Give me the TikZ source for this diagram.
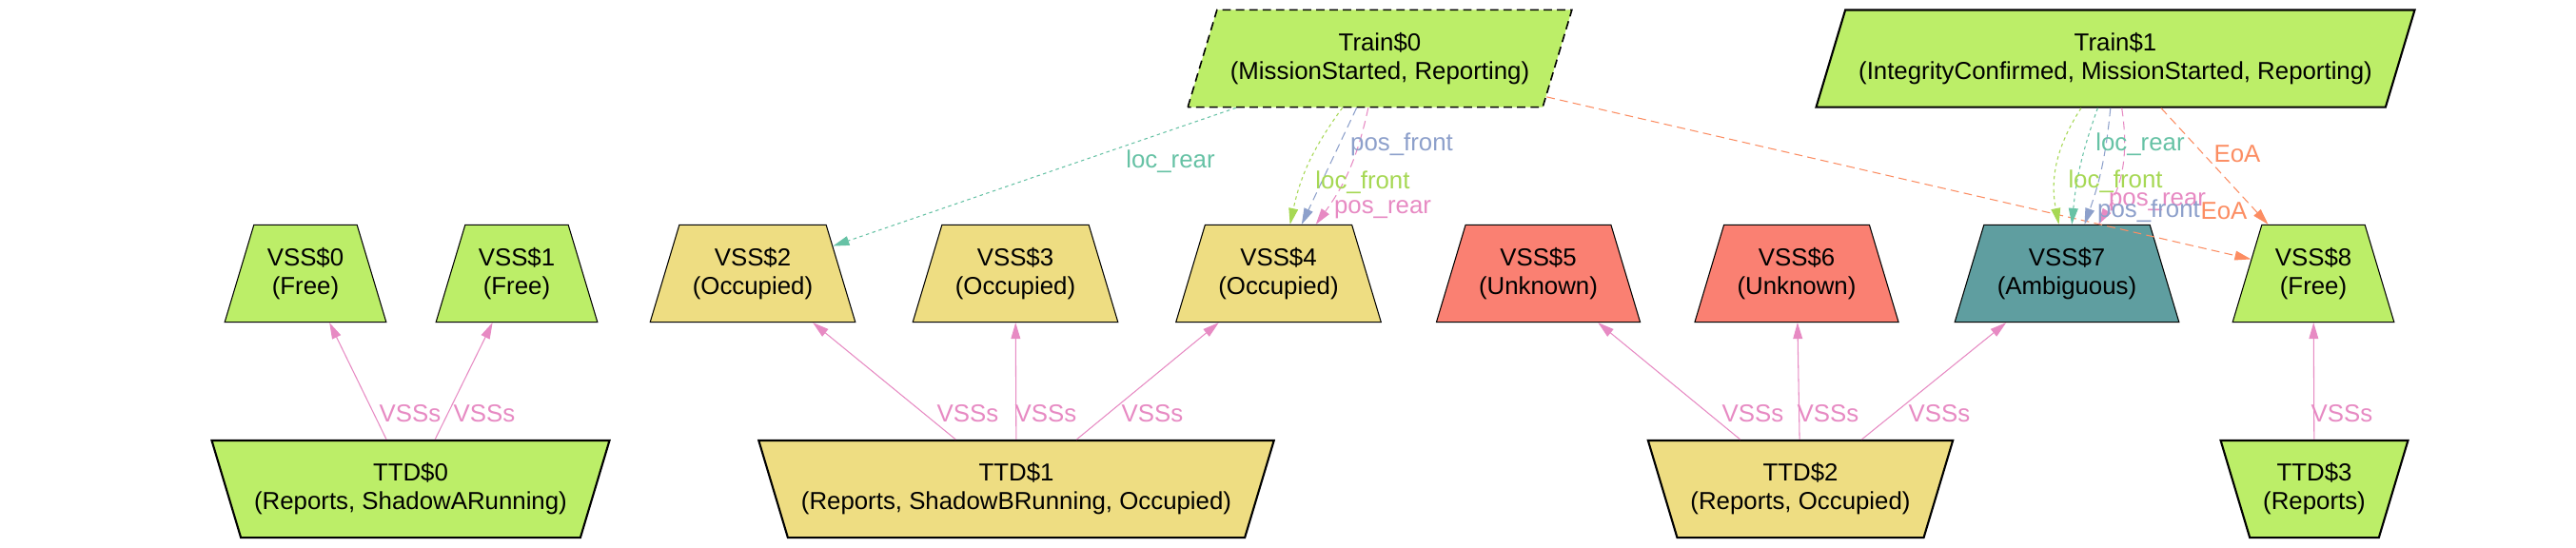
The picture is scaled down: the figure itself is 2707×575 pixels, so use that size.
\documentclass[tikz,border=0pt]{standalone}
\usepackage{fontspec}
\setmainfont{Liberation Sans}
\usetikzlibrary{shapes.geometric}
\usetikzlibrary{arrows.meta}
\definecolor{greenfill}{HTML}{BCEE68}
\definecolor{goldfill}{HTML}{EEDD82}
\definecolor{salmonfill}{HTML}{FA8072}
\definecolor{tealfill}{HTML}{5F9EA0}
\definecolor{setteal}{HTML}{66C2A5}
\definecolor{setorange}{HTML}{FC8D62}
\definecolor{setblue}{HTML}{8DA0CB}
\definecolor{setpink}{HTML}{E78AC3}
\definecolor{setgreen}{HTML}{A6D854}
\tikzset{vss/.style = {trapezium, trapezium left angle=73.3, trapezium right angle=73.3, draw, line width=0.6pt, align=center, inner xsep=0.28cm, inner ysep=0.476cm}}
\tikzset{ttd/.style = {vss, shape border rotate=180, line width=1.2pt}}
\tikzset{train/.style = {vss, trapezium right angle=106.7, line width=1.2pt}}
\tikzset{lbl/.style = {inner sep=0}}
\tikzset{link/.style = {line width=0.6pt, -{Triangle[length=9.7pt,width=5.6pt]}}}
\tikzset{dots/.style = {link, dash pattern=on 2pt off 2pt}}
\tikzset{dashes/.style = {link, dash pattern=on 5pt off 3pt}}

\begin{document}
\begin{tikzpicture}[x=0.02cm, y=-0.02cm, font=\fontsize{14.7}{17.1}\selectfont]
      \path[use as bounding box, fill=white] (0,0) rectangle (2707,575);

      \node[train, fill=greenfill, line width=0.9pt, dash pattern=on 5pt off 3pt] (train0) at (1450,61.5) {Train\$0\\(MissionStarted, Reporting)};
      \node[train, fill=greenfill] (train1) at (2223,61.5) {Train\$1\\(IntegrityConfirmed, MissionStarted, Reporting)};

      \node[vss, fill=greenfill] (vss0) at (321,287.5) {VSS\$0\\(Free)};
      \node[vss, fill=greenfill] (vss1) at (543,287.5) {VSS\$1\\(Free)};
      \node[vss, fill=goldfill] (vss2) at (791,287.5) {VSS\$2\\(Occupied)};
      \node[vss, fill=goldfill] (vss3) at (1067,287.5) {VSS\$3\\(Occupied)};
      \node[vss, fill=goldfill] (vss4) at (1343.5,287.5) {VSS\$4\\(Occupied)};
      \node[vss, fill=salmonfill] (vss5) at (1616.5,287.5) {VSS\$5\\(Unknown)};
      \node[vss, fill=salmonfill] (vss6) at (1888,287.5) {VSS\$6\\(Unknown)};
      \node[vss, fill=tealfill] (vss7) at (2172,287.5) {VSS\$7\\(Ambiguous)};
      \node[vss, fill=greenfill] (vss8) at (2431,287.5) {VSS\$8\\(Free)};

      \node[ttd, fill=greenfill] (ttd0) at (431.5,514) {TTD\$0\\(Reports, ShadowARunning)};
      \node[ttd, fill=goldfill] (ttd1) at (1068,514) {TTD\$1\\(Reports, ShadowBRunning, Occupied)};
      \node[ttd, fill=goldfill] (ttd2) at (1892,514) {TTD\$2\\(Reports, Occupied)};
      \node[ttd, fill=greenfill] (ttd3) at (2432,514) {TTD\$3\\(Reports)};

      \draw[link, setpink] (ttd0) -- (vss0);
      \draw[link, setpink] (ttd0) -- (vss1);
      \draw[link, setpink] (ttd1) -- (vss2);
      \draw[link, setpink] (ttd1) -- (vss3);
      \draw[link, setpink] (ttd1) -- (vss4);
      \draw[link, setpink] (ttd2) -- (vss5);
      \draw[link, setpink] (ttd2) -- (vss6);
      \draw[link, setpink] (ttd2) -- (vss7);
      \draw[link, setpink] (ttd3) -- (vss8);

      \draw[dots, setteal] (train0) -- (vss2);
      \draw[dots, setgreen] (train0) to[bend right=12] (vss4);
      \draw[dashes, setblue] (train0) -- (vss4);
      \draw[dashes, setpink] (train0) to[bend left=12] (vss4);
      \draw[dashes, setorange] (train0) -- (vss8);

      \draw[dots, setgreen] (train1) to[bend right=22] (vss7);
      \draw[dots, setteal] (train1) to[bend right=7] (vss7);
      \draw[dashes, setblue] (train1) to[bend left=7] (vss7);
      \draw[dashes, setpink] (train1) to[bend left=20] (vss7);
      \draw[dashes, setorange] (train1) -- (vss8);

      \node[lbl, setpink] (v0a) at (431,435) {VSSs};
      \node[lbl, setpink] (v0b) at (509,435) {VSSs};
      \node[lbl, setpink] (v1a) at (1017,435) {VSSs};
      \node[lbl, setpink] (v1b) at (1099,435) {VSSs};
      \node[lbl, setpink] (v1c) at (1211,435) {VSSs};
      \node[lbl, setpink] (v2a) at (1842,435) {VSSs};
      \node[lbl, setpink] (v2b) at (1921,435) {VSSs};
      \node[lbl, setpink] (v2c) at (2038,435) {VSSs};
      \node[lbl, setpink] (v3a) at (2461,435) {VSSs};

      \node[lbl, setteal] (lrear0) at (1230,170) {loc\_rear};
      \node[lbl, setblue] (pfront0) at (1473,152) {pos\_front};
      \node[lbl, setgreen] (lfront0) at (1432,192) {loc\_front};
      \node[lbl, setpink] (prear0) at (1453,220) {pos\_rear};
      \node[lbl, setteal] (lrear1) at (2249,152) {loc\_rear};
      \node[lbl, setorange] (eoa1) at (2351,162) {EoA};
      \node[lbl, setgreen] (lfront1) at (2223,191) {loc\_front};
      \node[lbl, setpink] (prear1) at (2267,212) {pos\_rear};
      \node[lbl, setblue] (pfront1) at (2258,222) {pos\_front};
      \node[lbl, setorange] (eoa0) at (2337,222) {EoA};
\end{tikzpicture}
\end{document}
